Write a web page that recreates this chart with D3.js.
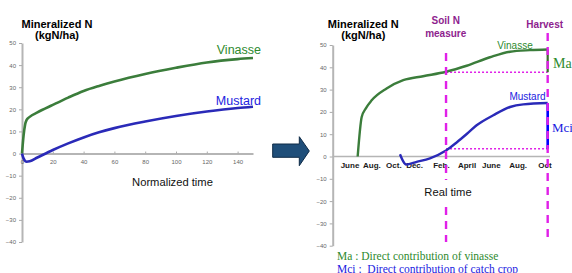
<!DOCTYPE html>
<html>
<head>
<meta charset="utf-8">
<script src="https://cdn.jsdelivr.net/npm/d3@7"></script>
<style>
  body { margin: 0; background: #fff; }
  svg { display: block; font-family: Arial, "Liberation Sans", sans-serif; }
  .tick text { fill: #666; font-size: 6px; }
  .tick line { stroke: #aaa; }
  .domain { stroke: #b5b5b5; stroke-width: 2px; }
</style>
</head>
<body>
<div id="chart"></div>
<script>
'use strict'
// left panel: normalized time (days), right panel: real time (months since June)
const yTicks = [50, 40, 30, 20, 10, 0, -10, -20, -30, -40]
const normTicks = [0, 20, 40, 60, 80, 100, 120, 140]
const monthLabels = ["June", "Aug.", "Oct.", "Dec.", "Feb.", "April", "June", "Aug.", "Oct"]
const monthTickPos = [0, 1.8, 3.6, 5.3, 7.5, 9.6, 11.6, 13.8, 16]

const vinasseNorm = [[0,0],[1,8],[2,13],[3,15.2],[5,16.6],[10,18.6],[20,22],[30,25.3],[40,28.3],[50,30.6],[60,32.6],[80,36],[100,38.8],[120,41.2],[140,42.7],[150,43.2]]
const mustardNorm = [[0,0],[1,-2.2],[3,-3.7],[5,-3.5],[10,-1.8],[20,1.6],[30,4.6],[40,7.3],[50,9.6],[60,11.5],[80,14.5],[100,17],[120,19],[140,20.6],[150,21.2]]

const vinasseReal = [[0.63,0],[0.96,17.7],[1.3,21.6],[1.78,25.2],[3.0,30.5],[4.37,34.2],[6.0,36],[7.88,38],[9.57,40.7],[11.48,44.5],[13.13,47],[14.77,47.7],[16.22,48]]
const mustardReal = [[4.1,1],[4.35,-2],[4.6,-3.6],[5.47,-2.4],[6.56,-0.8],[7.88,2.7],[8.75,6.3],[9.6,10.2],[10.39,14],[11.76,18.5],[13.13,22.2],[14.22,23.4],[16.22,24]]

const soilMonth = 7.88, harvestMonth = 16.22
const maRange = [37.8, 48]
const mciRange = [3.5, 24]

const W = 572, H = 273
const green = "#3b7d3b", blue = "#2a2ab8", magenta = "#e020e8", purple = "#8e1e8e"
const serif = "'Liberation Serif', 'Times New Roman', serif"

const svg = d3.select("#chart").append("svg").attr("width", W).attr("height", H)

// ---------- left panel ----------
const xL = d3.scaleLinear().domain([0, 150]).range([22, 253])
const yL = d3.scaleLinear().domain([-40, 50]).range([242, 43])

svg.append("g").attr("transform", `translate(${xL(0)},0)`)
  .call(d3.axisLeft(yL).tickValues(yTicks).tickSize(3).tickPadding(3).tickSizeOuter(0))
svg.append("g").attr("transform", `translate(0,${yL(0)})`)
  .call(d3.axisBottom(xL).tickValues(normTicks).tickSize(-2).tickPadding(6).tickSizeOuter(0))

const lineL = d3.line().x(d => xL(d[0])).y(d => yL(d[1])).curve(d3.curveMonotoneX)
svg.append("path").datum(vinasseNorm).attr("d", lineL)
  .attr("fill", "none").attr("stroke", green).attr("stroke-width", 2.6)
svg.append("path").datum(mustardNorm).attr("d", lineL)
  .attr("fill", "none").attr("stroke", blue).attr("stroke-width", 2.6)

svg.append("text").attr("x", 261).attr("y", 54).attr("text-anchor", "end")
  .attr("font-size", 12.5).attr("fill", "#2e8a2e").text("Vinasse")
svg.append("text").attr("x", 261).attr("y", 105).attr("text-anchor", "end")
  .attr("font-size", 12.5).attr("fill", "#2222e0").text("Mustard")

svg.append("text").attr("x", 57).attr("y", 28).attr("text-anchor", "middle")
  .attr("font-size", 11).attr("font-weight", "bold").text("Mineralized N")
svg.append("text").attr("x", 57).attr("y", 39).attr("text-anchor", "middle")
  .attr("font-size", 11).attr("font-weight", "bold").text("(kgN/ha)")
svg.append("text").attr("x", 172.5).attr("y", 186).attr("text-anchor", "middle")
  .attr("font-size", 11.2).attr("fill", "#111").text("Normalized time")

// ---------- arrow ----------
svg.append("path")
  .attr("d", "M272.7,144 L299.3,144 L299.3,136.7 L309.3,151 L299.3,165.7 L299.3,157.3 L272.7,157.3 Z")
  .attr("fill", "#1f4e79").attr("stroke", "#0f2b47").attr("stroke-width", 1)

// ---------- right panel ----------
const xR = d3.scaleLinear().domain([0, 16]).range([350, 545])
const yR = d3.scaleLinear().domain([-40, 50]).range([245.7, 45])

svg.append("g").attr("transform", `translate(332.7,0)`)
  .call(d3.axisLeft(yR).tickValues(yTicks).tickSize(3).tickPadding(3).tickSizeOuter(0))
svg.append("line").attr("x1", 332.7).attr("x2", 550).attr("y1", yR(0)).attr("y2", yR(0))
  .attr("stroke", "#b5b5b5").attr("stroke-width", 1.5)

svg.append("g").selectAll("text").data(monthLabels).join("text")
  .attr("x", (d, i) => xR(monthTickPos[i])).attr("y", yR(0) + 11)
  .attr("text-anchor", "middle").attr("font-size", 8).attr("font-weight", "bold")
  .attr("fill", "#1a1a1a").text(d => d)

// dotted reference lines
svg.append("line").attr("x1", xR(soilMonth)).attr("x2", xR(harvestMonth))
  .attr("y1", yR(maRange[0])).attr("y2", yR(maRange[0]))
  .attr("stroke", magenta).attr("stroke-width", 1.4).attr("stroke-dasharray", "2,2")
svg.append("line").attr("x1", xR(soilMonth)).attr("x2", xR(harvestMonth))
  .attr("y1", yR(mciRange[0])).attr("y2", yR(mciRange[0]))
  .attr("stroke", magenta).attr("stroke-width", 1.4).attr("stroke-dasharray", "2,2")

const lineR = d3.line().x(d => xR(d[0])).y(d => yR(d[1])).curve(d3.curveMonotoneX)
svg.append("path").datum(vinasseReal).attr("d", lineR)
  .attr("fill", "none").attr("stroke", green).attr("stroke-width", 2.4)
svg.append("path").datum(mustardReal).attr("d", lineR)
  .attr("fill", "none").attr("stroke", blue).attr("stroke-width", 2.4)

// Ma / Mci bars
svg.append("line").attr("x1", xR(harvestMonth)).attr("x2", xR(harvestMonth))
  .attr("y1", yR(maRange[1])).attr("y2", yR(maRange[0]))
  .attr("stroke", "#3a6e2a").attr("stroke-width", 2.2)
svg.append("line").attr("x1", xR(harvestMonth)).attr("x2", xR(harvestMonth))
  .attr("y1", yR(mciRange[1])).attr("y2", yR(mciRange[0]))
  .attr("stroke", "#0000ff").attr("stroke-width", 2.6)

// dashed event lines
svg.append("line").attr("x1", xR(soilMonth)).attr("x2", xR(soilMonth))
  .attr("y1", 53).attr("y2", 242)
  .attr("stroke", magenta).attr("stroke-width", 2.4).attr("stroke-dasharray", "8,6")
svg.append("line").attr("x1", xR(harvestMonth)).attr("x2", xR(harvestMonth))
  .attr("y1", 33).attr("y2", 237)
  .attr("stroke", magenta).attr("stroke-width", 2.4).attr("stroke-dasharray", "8,6")

svg.append("rect").attr("x", 422).attr("y", 180).attr("width", 52).attr("height", 21).attr("fill", "#fff")
svg.append("text").attr("x", 448).attr("y", 196).attr("text-anchor", "middle")
  .attr("font-size", 11.2).attr("fill", "#111").text("Real time")

svg.append("text").attr("x", 515).attr("y", 49).attr("text-anchor", "middle")
  .attr("font-size", 10).attr("fill", "#2e8a2e").text("Vinasse")
svg.append("text").attr("x", 527.5).attr("y", 99.5).attr("text-anchor", "middle")
  .attr("font-size", 10).attr("fill", "#2222e0").text("Mustard")

svg.append("text").attr("x", 553).attr("y", 67.5).attr("font-family", serif)
  .attr("font-size", 14).attr("fill", "#2e8a2e").text("Ma")
svg.append("text").attr("x", 552).attr("y", 132).attr("font-family", serif)
  .attr("font-size", 13).attr("fill", "#1a1ae0").text("Mci")

svg.append("text").attr("x", 363.3).attr("y", 28).attr("text-anchor", "middle")
  .attr("font-size", 11).attr("font-weight", "bold").text("Mineralized N")
svg.append("text").attr("x", 363.3).attr("y", 39).attr("text-anchor", "middle")
  .attr("font-size", 11).attr("font-weight", "bold").text("(kgN/ha)")

svg.append("text").attr("x", 445.7).attr("y", 24).attr("text-anchor", "middle")
  .attr("font-size", 10).attr("font-weight", "bold").attr("fill", purple).text("Soil N")
svg.append("text").attr("x", 445.7).attr("y", 37).attr("text-anchor", "middle")
  .attr("font-size", 10).attr("font-weight", "bold").attr("fill", purple).text("measure")
svg.append("text").attr("x", 544.7).attr("y", 28).attr("text-anchor", "middle")
  .attr("font-size", 10).attr("font-weight", "bold").attr("fill", purple).text("Harvest")

svg.append("text").attr("x", 337).attr("y", 260).attr("font-family", serif)
  .attr("font-size", 11.5).attr("fill", "#2e8a2e").text("Ma : Direct contribution of vinasse")
svg.append("text").attr("x", 337).attr("y", 272.5).attr("font-family", serif)
  .attr("font-size", 11.5).attr("fill", "#1a1ae0").attr("xml:space", "preserve")
  .text("Mci :  Direct contribution of catch crop")
</script>
</body>
</html>
